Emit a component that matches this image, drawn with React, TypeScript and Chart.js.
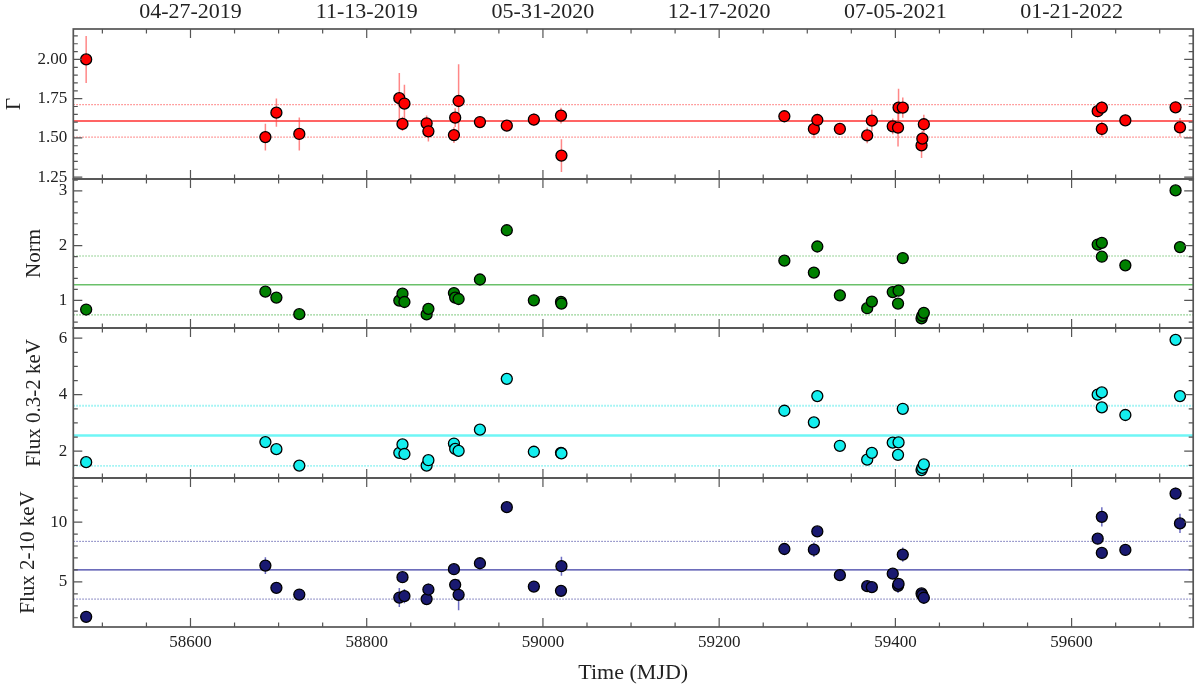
import React, { useEffect, useRef } from 'react';
import { Chart, registerables } from 'chart.js';

Chart.register(...registerables);

const W = 1200;
const H = 684;
const PLOT_LEFT = 73.3;
const PLOT_RIGHT = 1195.7;
// top of panel 1, the three shared borders, bottom of panel 4
const PANEL_EDGES = [29, 179, 328, 478, 627];
const FONT = "'Liberation Serif', 'DejaVu Serif', serif";
const AXIS_COLOR = '#555';
const TEXT_COLOR = '#222';

// x axis (MJD) and the matching calendar dates on the top axis
const X_MIN = 58467;
const X_MAX = 59738;
const X_MAJOR = [58600, 58800, 59000, 59200, 59400, 59600];
const X_MINOR_STEP = 50;
const DATE_LABELS = ['04-27-2019', '11-13-2019', '05-31-2020', '12-17-2020', '07-05-2021', '01-21-2022'];

// observation times
const MJD = [
  58481.6, 58685, 58697.5, 58723.5, 58837, 58840.6, 58842.8, 58868, 58870, 58899,
  58900.4, 58904.3, 58928.5, 58959, 58989.7, 59020.5, 59021, 59274, 59307.5, 59311.4,
  59337, 59368, 59373.3, 59397, 59403, 59403.6, 59408.4, 59429.7, 59430.6, 59432.3,
  59629.6, 59634.3, 59634.3, 59661, 59718, 59723,
];

// photon index
const GAMMA = [
  2.0, 1.505, 1.661, 1.525, 1.753, 1.589, 1.719, 1.593, 1.542, 1.518,
  1.629, 1.735, 1.601, 1.578, 1.617, 1.642, 1.387, 1.638, 1.557, 1.614,
  1.557, 1.516, 1.61, 1.574, 1.565, 1.693, 1.693, 1.452, 1.495, 1.587,
  1.67, 1.693, 1.557, 1.612, 1.695, 1.567,
];
const GAMMA_ERR = [
  0.15, 0.085, 0.09, 0.105, 0.16, 0.045, 0.12, 0.05, 0.065, 0.05,
  0.06, 0.235, 0.03, 0.02, 0.04, 0.05, 0.105, 0.03, 0.06, 0.04,
  0.03, 0.05, 0.07, 0.05, 0.12, 0.12, 0.065, 0.08, 0.05, 0.06,
  0.04, 0.04, 0.05, 0.03, 0.03, 0.06,
];
const GAMMA_LINES = [1.608, 1.505, 1.712];

// normalisation
const NORM = [
  0.831, 1.158, 1.049, 0.746, 0.994, 1.121, 0.969, 0.741, 0.843, 1.132,
  1.049, 1.024, 1.38, 2.281, 1.0, 0.97, 0.94, 1.725, 1.507, 1.984,
  1.091, 0.855, 0.976, 1.151, 0.94, 1.175, 1.773, 0.668, 0.716, 0.77,
  2.02, 2.05, 1.797, 1.64, 3.01, 1.973,
];
const NORM_ERR = [
  0.03, 0.03, 0.03, 0.03, 0.1, 0.04, 0.04, 0.03, 0.03, 0.04,
  0.04, 0.1, 0.03, 0.03, 0.03, 0.03, 0.03, 0.03, 0.03, 0.03,
  0.03, 0.03, 0.03, 0.03, 0.03, 0.03, 0.03, 0.03, 0.03, 0.03,
  0.03, 0.03, 0.03, 0.03, 0.03, 0.03,
];
const NORM_LINES = [1.284, 0.734, 1.81];

// soft flux, 0.3-2 keV
const FLUX_SOFT = [
  1.61, 2.32, 2.07, 1.49, 1.94, 2.24, 1.9, 1.49, 1.68, 2.27,
  2.08, 2.01, 2.76, 4.56, 1.98, 1.94, 1.92, 3.43, 3.02, 3.95,
  2.19, 1.7, 1.94, 2.3, 1.87, 2.31, 3.5, 1.33, 1.41, 1.53,
  4.0, 4.08, 3.55, 3.28, 5.94, 3.95,
];
const FLUX_SOFT_ERR = [
  0.05, 0.05, 0.05, 0.05, 0.2, 0.08, 0.08, 0.05, 0.05, 0.06,
  0.06, 0.2, 0.05, 0.05, 0.05, 0.05, 0.05, 0.05, 0.05, 0.05,
  0.05, 0.05, 0.05, 0.05, 0.05, 0.05, 0.05, 0.05, 0.05, 0.05,
  0.05, 0.05, 0.05, 0.05, 0.05, 0.05,
];
const FLUX_SOFT_LINES = [2.557, 1.478, 3.608];

// hard flux, 2-10 keV
const FLUX_HARD = [
  2.08, 6.36, 4.5, 3.94, 3.69, 5.39, 3.81, 3.56, 4.36, 6.06,
  4.75, 3.92, 6.56, 11.25, 4.61, 4.25, 6.31, 7.75, 7.69, 9.22,
  5.56, 4.64, 4.56, 5.69, 4.67, 4.83, 7.28, 4.03, 3.89, 3.67,
  8.61, 10.44, 7.42, 7.67, 12.39, 9.89,
];
const FLUX_HARD_ERR = [
  0.2, 0.7, 0.4, 0.4, 0.8, 0.3, 0.6, 0.3, 0.5, 0.3,
  0.5, 1.3, 0.3, 0.3, 0.3, 0.3, 0.8, 0.3, 0.6, 0.4,
  0.3, 0.3, 0.3, 0.4, 0.6, 0.3, 0.6, 0.3, 0.3, 0.3,
  0.3, 0.8, 0.3, 0.3, 0.5, 0.8,
];
const FLUX_HARD_LINES = [6.0, 3.56, 8.39];

type PanelSpec = {
  title: string;
  titlePad: number;
  values: number[];
  errors: number[];
  lines: number[];
  yMin: number;
  yMax: number;
  yMajor: number[];
  yMinorStep: number;
  decimals: number;
  marker: string;
  errColor: string;
  lineColor: string;
  dotColor: string;
  lineWidth: number;
  dotWidth: number;
};

const PANELS: PanelSpec[] = [
  {
    title: 'Γ', titlePad: 2, values: GAMMA, errors: GAMMA_ERR, lines: GAMMA_LINES,
    yMin: 1.238, yMax: 2.194, yMajor: [1.25, 1.5, 1.75, 2.0], yMinorStep: 0.05, decimals: 2,
    marker: '#ff0000', errColor: 'rgba(255,70,70,0.65)', lineColor: '#ff3030', dotColor: 'rgba(255,90,90,0.75)',
    lineWidth: 1.4, dotWidth: 1.2,
  },
  {
    title: 'Norm', titlePad: 22, values: NORM, errors: NORM_ERR, lines: NORM_LINES,
    yMin: 0.493, yMax: 3.219, yMajor: [1, 2, 3], yMinorStep: 0.2, decimals: 0,
    marker: '#008000', errColor: 'rgba(70,170,70,0.65)', lineColor: 'rgba(90,185,90,0.9)', dotColor: 'rgba(90,185,90,0.8)',
    lineWidth: 1.4, dotWidth: 1.2,
  },
  {
    title: 'Flux 0.3-2 keV', titlePad: 22, values: FLUX_SOFT, errors: FLUX_SOFT_ERR, lines: FLUX_SOFT_LINES,
    yMin: 1.05, yMax: 6.36, yMajor: [2, 4, 6], yMinorStep: 0.5, decimals: 0,
    marker: '#14eeee', errColor: 'rgba(60,235,235,0.7)', lineColor: '#6ff6f6', dotColor: '#8ef2f2',
    lineWidth: 2.6, dotWidth: 1.8,
  },
  {
    title: 'Flux 2-10 keV', titlePad: 16, values: FLUX_HARD, errors: FLUX_HARD_ERR, lines: FLUX_HARD_LINES,
    yMin: 1.225, yMax: 13.69, yMajor: [5, 10], yMinorStep: 1, decimals: 0,
    marker: '#191970', errColor: 'rgba(60,60,175,0.75)', lineColor: '#3c3ca4', dotColor: '#6a6ab4',
    lineWidth: 1.2, dotWidth: 1.0,
  },
];

// frame plus inward major/minor ticks on all four sides, placed with the chart's own scales
const makeFrameTicks = (p: PanelSpec) => ({
  id: 'frameTicks',
  afterDraw(chart: any) {
    const { ctx, chartArea: a } = chart;
    const xs = chart.scales.x;
    const ys = chart.scales.y;
    const marks = (scale: any, step: number, majors: number[], draw: (px: number, len: number) => void) => {
      const start = Math.ceil(scale.min / step - 1e-6);
      const end = Math.floor(scale.max / step + 1e-6);
      for (let k = start; k <= end; k++) {
        const v = k * step;
        const major = majors.some((m) => Math.abs(m - v) < step / 10);
        draw(scale.getPixelForValue(v), major ? 9 : 4.5);
      }
    };
    ctx.save();
    ctx.strokeStyle = AXIS_COLOR;
    ctx.lineWidth = 1.2;
    ctx.beginPath();
    marks(xs, X_MINOR_STEP, X_MAJOR, (px, len) => {
      ctx.moveTo(px, a.top);
      ctx.lineTo(px, a.top + len);
      ctx.moveTo(px, a.bottom);
      ctx.lineTo(px, a.bottom - len);
    });
    marks(ys, p.yMinorStep, p.yMajor, (py, len) => {
      ctx.moveTo(a.left, py);
      ctx.lineTo(a.left + len, py);
      ctx.moveTo(a.right, py);
      ctx.lineTo(a.right - len, py);
    });
    ctx.stroke();
    ctx.lineWidth = 1.7;
    ctx.strokeRect(a.left, a.top, a.right - a.left, a.bottom - a.top);
    ctx.restore();
  },
});

const buildConfig = (i: number): any => {
  const p = PANELS[i];
  const first = i === 0;
  const last = i === PANELS.length - 1;
  const top = PANEL_EDGES[i];
  const bottom = PANEL_EDGES[i + 1];
  const hline = (y: number) => [{ x: X_MIN, y }, { x: X_MAX, y }];
  const [mean, lo, hi] = p.lines;

  const scales: any = {
    x: {
      type: 'linear',
      position: 'bottom',
      min: X_MIN,
      max: X_MAX,
      offset: false,
      display: last,
      afterFit: last ? (s: any) => { s.height = H - PANEL_EDGES[PANEL_EDGES.length - 1]; } : undefined,
      afterBuildTicks: (s: any) => { s.ticks = X_MAJOR.map((value) => ({ value })); },
      ticks: {
        autoSkip: false,
        maxRotation: 0,
        padding: 5,
        color: TEXT_COLOR,
        font: { family: FONT, size: 17 },
        callback: (v: number) => String(v),
      },
      grid: { display: false, drawTicks: false },
      border: { display: false },
      title: {
        display: true,
        text: 'Time (MJD)',
        color: TEXT_COLOR,
        font: { family: FONT, size: 22, lineHeight: 1 },
        padding: { top: 0, bottom: 0 },
      },
    },
    y: {
      type: 'linear',
      position: 'left',
      min: p.yMin,
      max: p.yMax,
      afterFit: (s: any) => { s.width = PLOT_LEFT; },
      afterBuildTicks: (s: any) => { s.ticks = p.yMajor.map((value) => ({ value })); },
      ticks: {
        autoSkip: false,
        padding: 6,
        color: TEXT_COLOR,
        font: { family: FONT, size: 17 },
        callback: (v: number) => Number(v).toFixed(p.decimals),
      },
      grid: { display: false, drawTicks: false },
      border: { display: false },
      title: {
        display: true,
        text: p.title,
        color: TEXT_COLOR,
        font: { family: FONT, size: 21 },
        padding: { top: p.titlePad, bottom: 0 },
      },
    },
  };

  if (first) {
    scales.x2 = {
      type: 'linear',
      position: 'top',
      min: X_MIN,
      max: X_MAX,
      offset: false,
      afterFit: (s: any) => { s.height = PANEL_EDGES[0]; },
      afterBuildTicks: (s: any) => { s.ticks = X_MAJOR.map((value) => ({ value })); },
      ticks: {
        autoSkip: false,
        maxRotation: 0,
        padding: 4,
        color: TEXT_COLOR,
        font: { family: FONT, size: 22 },
        callback: (_v: number, idx: number) => DATE_LABELS[idx],
      },
      grid: { display: false, drawTicks: false },
      border: { display: false },
    };
  }

  return {
    type: 'scatter',
    data: {
      datasets: [
        {
          type: 'scatter',
          data: MJD.map((x, k) => ({ x, y: p.values[k] })),
          pointRadius: 5.5,
          pointHoverRadius: 5.5,
          pointBackgroundColor: p.marker,
          pointBorderColor: '#000',
          pointBorderWidth: 1.3,
          order: 0,
        },
        {
          type: 'bar',
          data: MJD.map((x, k) => ({ x, y: [p.values[k] - p.errors[k], p.values[k] + p.errors[k]] })),
          backgroundColor: p.errColor,
          barThickness: 1.5,
          borderWidth: 0,
          inflateAmount: 0,
          order: 1,
        },
        {
          type: 'line',
          data: hline(mean),
          borderColor: p.lineColor,
          borderWidth: p.lineWidth,
          pointRadius: 0,
          fill: false,
          order: 2,
        },
        {
          type: 'line',
          data: hline(lo),
          borderColor: p.dotColor,
          borderWidth: p.dotWidth,
          borderDash: [1.5, 1.5],
          pointRadius: 0,
          fill: false,
          order: 2,
        },
        {
          type: 'line',
          data: hline(hi),
          borderColor: p.dotColor,
          borderWidth: p.dotWidth,
          borderDash: [1.5, 1.5],
          pointRadius: 0,
          fill: false,
          order: 2,
        },
      ],
    },
    options: {
      responsive: false,
      maintainAspectRatio: false,
      animation: false,
      events: [],
      layout: {
        padding: {
          left: 0,
          right: W - PLOT_RIGHT,
          top: first ? 0 : top,
          bottom: last ? 0 : H - bottom,
        },
      },
      plugins: {
        legend: { display: false },
        tooltip: { enabled: false },
      },
      scales,
    },
    plugins: [makeFrameTicks(p)],
  };
};

const Panel = ({ index }: { index: number }) => {
  const canvasRef = useRef<HTMLCanvasElement>(null);

  useEffect(() => {
    if (!canvasRef.current) return;
    const chart = new Chart(canvasRef.current, buildConfig(index));
    return () => {
      chart.destroy();
    };
  }, [index]);

  return (
    <canvas
      ref={canvasRef}
      width={W}
      height={H}
      style={{ position: 'absolute', left: 0, top: 0, width: W, height: H }}
    />
  );
};

const App = () => {
  return (
    <div
      style={{
        position: 'absolute',
        left: 0,
        top: 0,
        width: W,
        height: H,
        background: '#fff',
        overflow: 'hidden',
      }}
    >
      {PANELS.map((_, i) => (
        <Panel key={i} index={i} />
      ))}
    </div>
  );
};

export default App;
